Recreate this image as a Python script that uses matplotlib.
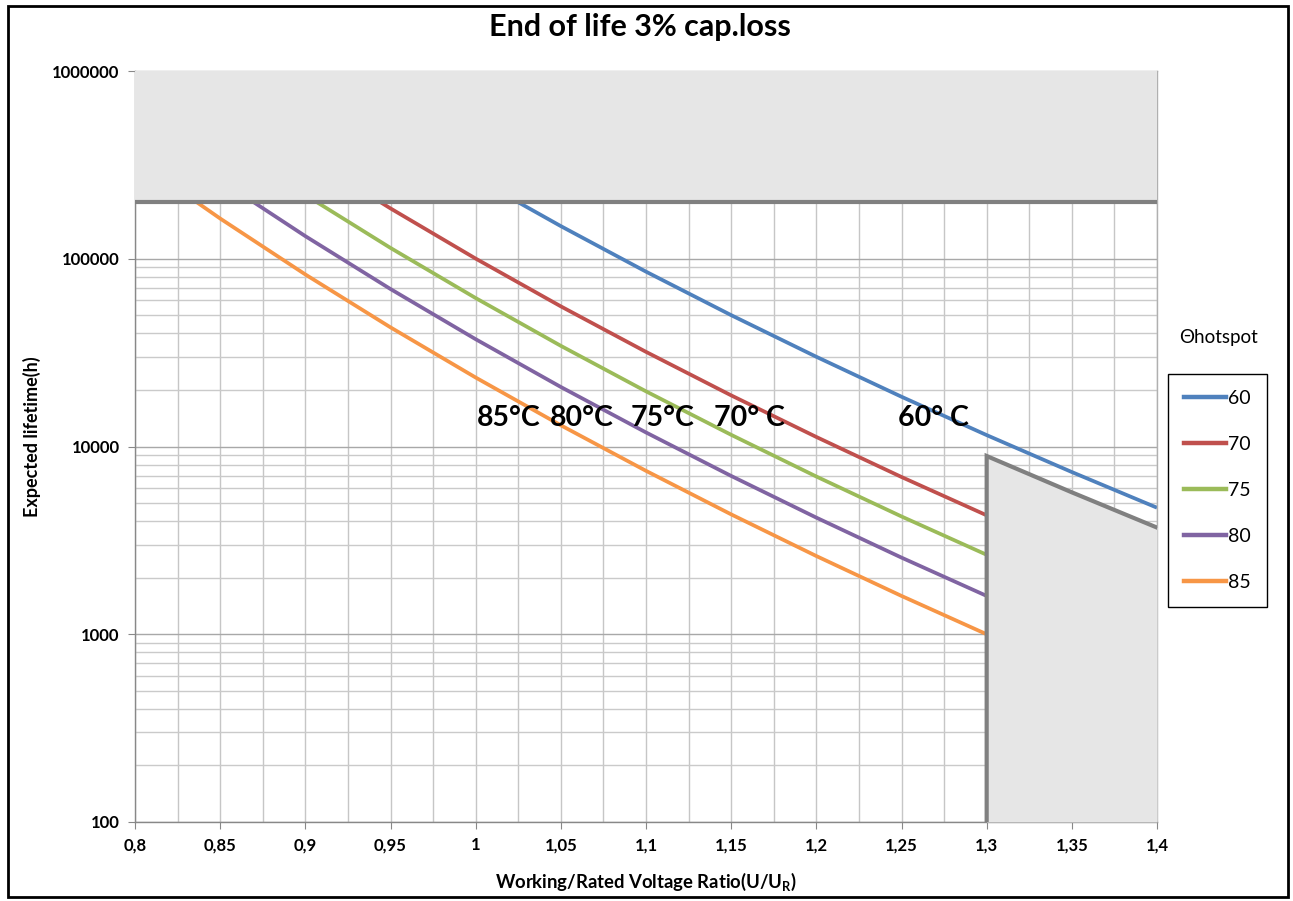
"""End of life 3% cap.loss - expected lifetime vs voltage ratio."""

import matplotlib
matplotlib.use("Agg")
import matplotlib.pyplot as plt
from matplotlib.lines import Line2D
from matplotlib.patches import Rectangle

plt.rcParams["font.family"] = ["Lato", "DejaVu Sans"]
plt.rcParams["mathtext.fontset"] = "custom"
plt.rcParams["mathtext.rm"] = "Lato"
plt.rcParams["mathtext.bf"] = "Lato:bold"

# voltage ratio U/UR, read at 0.05 steps
ratio = [0.80, 0.85, 0.90, 0.95, 1.00, 1.05, 1.10, 1.15, 1.20, 1.25, 1.30]
ratio_60 = [1.00, 1.05, 1.10, 1.15, 1.20, 1.25, 1.30, 1.35, 1.40]

# expected lifetime (h) per hotspot temperature
life_60 = [267900, 149200, 85360, 50070, 30050, 18410, 11500, 7310, 4720]
life_70 = [None, None, 354700, 185400, 100200, 55770, 31920, 18720, 11240, 6880, 4300]
life_75 = [None, None, 218600, 114200, 61750, 34370, 19670, 11540, 6920, 4240, 2650]
life_80 = [None, 262100, 131970, 68980, 37280, 20750, 11880, 6970, 4180, 2560, 1600]
life_85 = [339100, 163800, 82480, 43110, 23300, 12970, 7420, 4350, 2610, 1600, 1000]

series = [
    ("60", ratio_60, life_60, "#4F81BD"),
    ("70", ratio, life_70, "#C0504D"),
    ("75", ratio, life_75, "#9BBB59"),
    ("80", ratio, life_80, "#8064A2"),
    ("85", ratio, life_85, "#F79646"),
]

# temperature labels on the chart
temp_labels = ["85°C", "80°C", "75°C", "70° C", "60° C"]
temp_label_x = [1.0196, 1.0624, 1.110, 1.1605, 1.269]
temp_label_y = 14200

# excluded areas
life_cap = 200000
y_top = 1000000
y_bottom = 100
limit_x = [1.30, 1.35, 1.40]
limit_life = [8900, 5700, 3700]

x_ticks = [0.8, 0.85, 0.9, 0.95, 1.0, 1.05, 1.1, 1.15, 1.2, 1.25, 1.3, 1.35, 1.4]
x_tick_labels = ["0,8", "0,85", "0,9", "0,95", "1", "1,05", "1,1", "1,15", "1,2",
                 "1,25", "1,3", "1,35", "1,4"]
y_ticks = [100, 1000, 10000, 100000, 1000000]


def create_chart() -> None:
    fig = plt.figure(figsize=(12.93, 9.01), dpi=100)
    ax = fig.add_axes([135 / 1293, 1 - 822 / 901, 1022 / 1293, 751 / 901])

    ax.set_yscale("log")
    ax.set_xlim(0.8, 1.4)
    ax.set_ylim(y_bottom, y_top)

    # grid: vertical every 0.025, horizontal at 1..9 x decade
    for i in range(25):
        gx = 0.8 + i * 0.025
        ax.axvline(gx, color="#c6c6c6", lw=1.0, zorder=0.5)
    for dec in [100, 1000, 10000, 100000]:
        for m in range(1, 10):
            ax.axhline(dec * m, color="#a8a8a8" if m == 1 else "#cacaca", lw=1.0, zorder=0.5)

    for name, xs, ys, color in series:
        pts = [(x, y) for x, y in zip(xs, ys) if y is not None]
        ax.plot([p[0] for p in pts], [p[1] for p in pts], color=color, lw=2.7,
                solid_capstyle="butt", zorder=2, label=name)

    # grey excluded zones, drawn over the curves
    ax.fill_between([0.8, 1.4], life_cap, y_top, color="#e6e6e6", zorder=3, lw=0)
    ax.fill_between(limit_x, y_bottom, limit_life, color="#e6e6e6", zorder=3, lw=0)
    ax.plot([0.8, 1.4], [life_cap, life_cap], color="#808080", lw=3, zorder=4,
            solid_capstyle="butt")
    ax.plot([limit_x[0]] + limit_x, [y_bottom] + limit_life, color="#808080", lw=3,
            zorder=4, solid_joinstyle="miter")

    for txt, tx in zip(temp_labels, temp_label_x):
        ax.text(tx, temp_label_y, txt, ha="center", va="center", fontsize=20.5,
                fontweight="bold", color="black", zorder=5)

    ax.set_xticks(x_ticks)
    ax.set_xticklabels(x_tick_labels, fontsize=12, fontweight="bold")
    ax.set_yticks(y_ticks)
    ax.set_yticklabels([str(v) for v in y_ticks], fontsize=12, fontweight="bold")
    ax.minorticks_off()
    ax.tick_params(axis="both", direction="out", length=5, color="#888888", pad=6)

    for side in ["top", "right"]:
        ax.spines[side].set_color("#b0b0b0")
        ax.spines[side].set_linewidth(1.0)
    for side in ["left", "bottom"]:
        ax.spines[side].set_color("#888888")
        ax.spines[side].set_linewidth(1.0)

    fig.text(640 / 1293, 1 - 27 / 901, "End of life 3% cap.loss", ha="center", va="center",
             fontsize=22, fontweight="bold")
    fig.text(32 / 1293, 1 - 437 / 901, "Expected lifetime(h)", ha="center", va="center",
             rotation=90, fontsize=13, fontweight="bold")
    fig.text(646 / 1293, 1 - 882 / 901, r"Working/Rated Voltage Ratio(U/U$_\mathbf{R}$)",
             ha="center", va="center", fontsize=13.3, fontweight="bold")

    fig.text(1219 / 1293, 1 - 338 / 901, "Θhotspot", ha="center", va="center", fontsize=13.5)
    handles = [Line2D([], [], color=c, lw=3.2) for _, _, _, c in series]
    leg = ax.legend(handles, [s[0] for s in series], loc="upper left",
                    bbox_to_anchor=(1168 / 1293, 1 - 374 / 901), bbox_transform=fig.transFigure,
                    borderaxespad=0, fancybox=False, edgecolor="black", framealpha=1,
                    fontsize=14, handlelength=2.2, handletextpad=0.1, labelspacing=1.5,
                    borderpad=0.8)
    leg.get_frame().set_linewidth(1.0)

    # outer frame around the picture
    fig.patches.append(Rectangle((8 / 1293, 4 / 901), 1280 / 1293, 891 / 901,
                                 transform=fig.transFigure, fill=False, edgecolor="black", lw=2))

    fig.savefig("out.png", dpi=100)
    plt.close(fig)


if __name__ == "__main__":
    create_chart()
